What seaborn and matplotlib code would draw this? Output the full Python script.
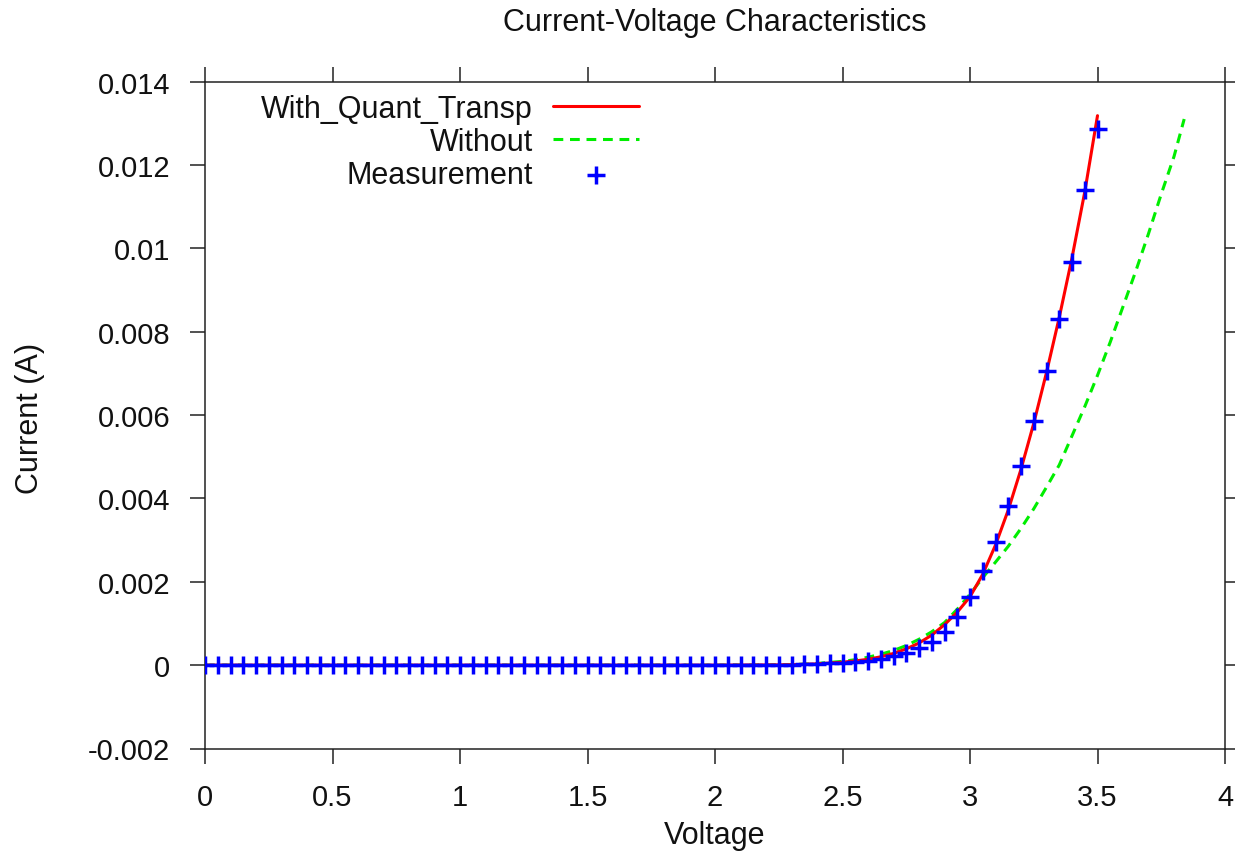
import matplotlib
matplotlib.use("Agg")
import matplotlib.pyplot as plt
import seaborn as sns
import pandas as pd

# ---------------- data ----------------
title = "Current-Voltage Characteristics"
x_label = "Voltage"
y_label = "Current (A)"

x_ticks = [0, 0.5, 1, 1.5, 2, 2.5, 3, 3.5, 4]
x_tick_labels = ["0", "0.5", "1", "1.5", "2", "2.5", "3", "3.5", "4"]
y_ticks = [-0.002, 0, 0.002, 0.004, 0.006, 0.008, 0.01, 0.012, 0.014]
y_tick_labels = ["-0.002", "0", "0.002", "0.004", "0.006", "0.008", "0.01", "0.012", "0.014"]

# With quantum transport (simulation)
v_quant = [0, 0.5, 1.0, 1.5, 2.0, 2.2, 2.3, 2.4, 2.5, 2.55, 2.6, 2.65, 2.7, 2.75, 2.8,
           2.85, 2.9, 2.95, 3.0, 3.05, 3.1, 3.15, 3.2, 3.25, 3.3, 3.35, 3.4, 3.45, 3.5]
i_quant = [0, 0, 0, 0, 0, 0.000005, 0.00001, 0.00003, 0.00007, 0.0001, 0.00014, 0.0002,
           0.00028, 0.00039, 0.00053, 0.00072, 0.00097, 0.00127, 0.00164, 0.00218,
           0.00288, 0.00372, 0.0047, 0.0058, 0.00702, 0.00834, 0.00977, 0.01135, 0.01318]

# Without quantum transport (simulation)
v_without = [0, 0.5, 1.0, 1.5, 2.0, 2.2, 2.3, 2.4, 2.5, 2.55, 2.6, 2.65, 2.7, 2.75, 2.8,
             2.85, 2.9, 2.95, 3.0, 3.05, 3.1, 3.15, 3.2, 3.25, 3.3, 3.35, 3.4, 3.45, 3.5,
             3.55, 3.6, 3.65, 3.7, 3.75, 3.8, 3.84]
i_without = [0, 0, 0, 0, 0, 0.000005, 0.00001, 0.00004, 0.00009, 0.00013, 0.00019, 0.00026,
             0.00035, 0.00047, 0.00062, 0.0008, 0.00102, 0.00134, 0.0017, 0.0021, 0.00247,
             0.00285, 0.00328, 0.00375, 0.00427, 0.0048, 0.0055, 0.0062, 0.00695, 0.00775,
             0.0086, 0.00945, 0.01035, 0.0113, 0.0122, 0.0131]

# Measurement, every 0.05 V from 0 to 3.5 V
v_meas = [round(0.05 * k, 2) for k in range(71)]
i_meas = [0.0] * 46 + [0.00001, 0.00002, 0.00003, 0.00004, 0.00006, 0.00008, 0.00011,
                       0.00015, 0.00021, 0.00029, 0.0004, 0.00056, 0.00079, 0.00116,
                       0.00164, 0.00225, 0.00296, 0.00382, 0.00478, 0.00586, 0.00705,
                       0.0083, 0.00966, 0.0114, 0.01286]

series_names = ["With_Quant_Transp", "Without", "Measurement"]

# ---------------- style ----------------
sns.set_style("white")
plt.rcParams["font.family"] = ["Liberation Sans", "DejaVu Sans"]
FS = 22
TFS = 21

fig = plt.figure(figsize=(12.35, 8.54), dpi=100)
W, H = 1235, 854
left, right, top, bottom = 205, 1225, 82.5, 749.5
ax = fig.add_axes([left / W, 1 - bottom / H, (right - left) / W, (bottom - top) / H])

df_q = pd.DataFrame({"v": v_quant, "i": i_quant})
df_w = pd.DataFrame({"v": v_without, "i": i_without})
df_m = pd.DataFrame({"v": v_meas, "i": i_meas})

sns.lineplot(data=df_q, x="v", y="i", ax=ax, color="#ff0000", linewidth=2.2,
             label=series_names[0], zorder=3)
sns.lineplot(data=df_w, x="v", y="i", ax=ax, color="#00ee00", linewidth=2.2,
             dashes=False, label=series_names[1], zorder=2)
ax.lines[-1].set_dashes((3.2, 2.2))
sns.scatterplot(data=df_m, x="v", y="i", ax=ax, color="#0000ff", marker="+", s=150,
                linewidth=2.5, label=series_names[2], zorder=4)

ax.set_xlim(0, 4)
ax.set_ylim(-0.002, 0.014)
ax.set_xticks(x_ticks)
ax.set_xticklabels(x_tick_labels)
ax.set_yticks(y_ticks)
ax.set_yticklabels(y_tick_labels)
ax.set_xlabel("")
ax.set_ylabel("")

for sp in ax.spines.values():
    sp.set_color("#222222")
    sp.set_linewidth(1.1)
ax.tick_params(axis="both", which="major", direction="out", length=11, width=1.1,
               color="#222222", labelsize=TFS, pad=14, labelcolor="#111111",
               top=True, right=True, bottom=True, left=True)

leg = ax.legend(loc="upper right", bbox_to_anchor=(0.425, 0.982), frameon=False,
                markerfirst=False, fontsize=FS, handlelength=2.8, handletextpad=0.65,
                labelspacing=0.1, borderpad=0, borderaxespad=0)
for t in leg.get_texts():
    t.set_color("#111111")

fig.text(715 / W, 1 - 23 / H, title, ha="center", va="center", fontsize=FS, color="#111111")
fig.text(30 / W, 1 - 418 / H, y_label, ha="center", va="center", rotation=90,
         fontsize=FS, color="#111111")
fig.text(715 / W, 1 - 836 / H, x_label, ha="center", va="center", fontsize=FS,
         color="#111111")

fig.savefig("out.png", dpi=100)
